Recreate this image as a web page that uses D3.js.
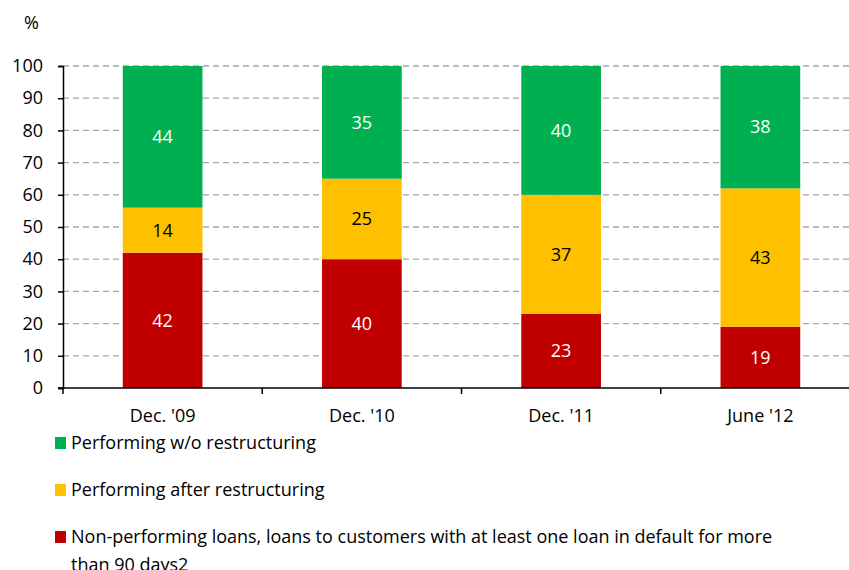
<!DOCTYPE html>
<html>
<head>
<meta charset="utf-8">
<script src="https://cdn.jsdelivr.net/npm/d3@7"></script>
<style>
  html, body { margin: 0; padding: 0; background: #fff; }
  svg text { font-family: "Open Sans", Lato, sans-serif; }
</style>
</head>
<body>
<svg id="chart" width="849" height="570"></svg>
<script>
// Loan quality shares by period (%)
const categories = ["Dec. '09", "Dec. '10", "Dec. '11", "June '12"];
const nonPerforming = [42, 40, 23, 19];
const afterRestructuring = [14, 25, 37, 43];
const withoutRestructuring = [44, 35, 40, 38];
const yTicks = [0, 10, 20, 30, 40, 50, 60, 70, 80, 90, 100];

const seriesNames = [
  "Performing w/o restructuring",
  "Performing after restructuring",
  "Non-performing loans, loans to customers with at least one loan in default for more than 90 days2"
];
const seriesColors = ["#00B050", "#FFC000", "#C00000"];

const FONT = 18;
const svg = d3.select("#chart");
const margin = { left: 63, top: 66, bottom: 388 };
const plotRight = 860;

const x = d3.scaleBand().domain(categories).range([margin.left, plotRight]).paddingInner(0.6).paddingOuter(0.3);
const y = d3.scaleLinear().domain([0, 100]).range([margin.bottom, margin.top]);

// stack bottom-up: non-performing, after restructuring, w/o restructuring
const rows = categories.map((c, i) => ({
  cat: c,
  np: nonPerforming[i],
  ar: afterRestructuring[i],
  wr: withoutRestructuring[i]
}));
const keys = ["np", "ar", "wr"];
const keyColor = { np: seriesColors[2], ar: seriesColors[1], wr: seriesColors[0] };
const stacked = d3.stack().keys(keys)(rows);

// gridlines
svg.append("g")
  .selectAll("line")
  .data(yTicks.filter(t => t > 0))
  .join("line")
  .attr("x1", margin.left).attr("x2", 849)
  .attr("y1", d => y(d)).attr("y2", d => y(d))
  .attr("stroke", "#A6A6A6").attr("stroke-width", 1.3)
  .attr("stroke-dasharray", "6,4");

// bars
const layer = svg.append("g").selectAll("g").data(stacked).join("g")
  .attr("fill", d => keyColor[d.key]);
layer.selectAll("rect").data(d => d).join("rect")
  .attr("x", d => x(d.data.cat))
  .attr("width", x.bandwidth())
  .attr("y", d => y(d[1]))
  .attr("height", d => y(d[0]) - y(d[1]));

// value labels
layer.each(function(s) {
  d3.select(this).selectAll("text").data(s).join("text")
    .attr("x", d => x(d.data.cat) + x.bandwidth() / 2)
    .attr("y", d => (y(d[0]) + y(d[1])) / 2)
    .attr("dy", "0.35em")
    .attr("text-anchor", "middle")
    .attr("fill", s.key === "ar" ? "#000" : "#fff")
    .attr("font-size", FONT)
    .text(d => d.data[s.key]);
});

// y axis
const yAxis = svg.append("g")
  .attr("transform", `translate(${margin.left},0)`)
  .call(d3.axisLeft(y).tickValues(yTicks).tickSize(5).tickPadding(15));
yAxis.select(".domain").attr("stroke", "#000").attr("stroke-width", 1.5);
yAxis.selectAll(".tick line").attr("stroke", "#000").attr("stroke-width", 1.5);
yAxis.selectAll(".tick text").attr("font-size", FONT).attr("fill", "#000")
  .style("font-family", "'Open Sans', sans-serif");

// x axis with category boundary ticks
const xAxisG = svg.append("g").attr("transform", `translate(0,${margin.bottom})`);
xAxisG.append("line").attr("x1", margin.left - 5).attr("x2", 849)
  .attr("stroke", "#000").attr("stroke-width", 1.5);
const step = x.step();
const firstEdge = x(categories[0]) - x.paddingOuter() * step;
const bounds = d3.range(categories.length + 1).map(i => firstEdge + i * step);
xAxisG.selectAll("line.tk").data(bounds).join("line").attr("class", "tk")
  .attr("x1", d => d).attr("x2", d => d).attr("y1", 0).attr("y2", 6)
  .attr("stroke", "#000").attr("stroke-width", 1.5);
xAxisG.selectAll("text").data(categories).join("text")
  .attr("x", d => x(d) + x.bandwidth() / 2)
  .attr("y", 34)
  .attr("text-anchor", "middle")
  .attr("font-size", FONT)
  .text(d => d);

// unit label
svg.append("text").attr("x", 24).attr("y", 29).attr("font-size", FONT).text("%");

// legend
const legendRows = [
  { color: seriesColors[0], y: 443, lines: [seriesNames[0]] },
  { color: seriesColors[1], y: 490, lines: [seriesNames[1]] },
  { color: seriesColors[2], y: 537,
    lines: ["Non-performing loans, loans to customers with at least one loan in default for more", "than 90 days2"] }
];
const lg = svg.append("g").selectAll("g").data(legendRows).join("g");
lg.append("rect").attr("x", 55).attr("y", d => d.y - 6).attr("width", 11).attr("height", 12)
  .attr("fill", d => d.color);
lg.append("text").attr("font-size", FONT)
  .selectAll("tspan").data(d => d.lines.map((l, i) => ({ l, i, y: d.y })))
  .join("tspan")
  .attr("x", 71)
  .attr("y", d => d.y + d.i * 28)
  .attr("dy", "0.35em")
  .text(d => d.l);
</script>
</body>
</html>
